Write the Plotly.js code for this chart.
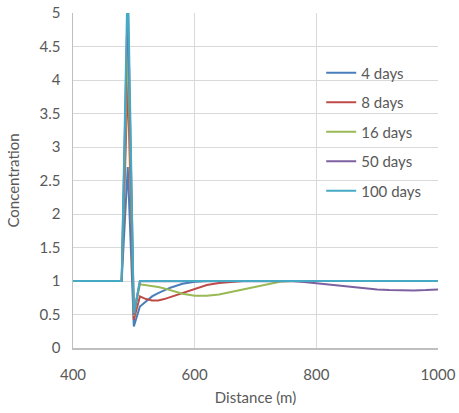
<!DOCTYPE html>
<html>
<head>
<meta charset="utf-8">
<script src="https://cdn.plot.ly/plotly-3.0.1.min.js"></script>
<style>html,body{margin:0;padding:0;background:#fff;}#chart{width:459px;height:413px;}</style>
</head>
<body>
<div id="chart"></div>
<script>
var distance = [400,480,490,500,510,520,530,540,550,560,580,600,620,640,660,680,700,720,740,760,780,800,820,840,860,880,900,920,940,960,980,1000];
var days4   = [1,1,2.7,0.32,0.62,0.70,0.77,0.82,0.86,0.90,0.96,0.99,1,1,1,1,1,1,1,1,1,1,1,1,1,1,1,1,1,1,1,1];
var days8   = [1,1,4.0,0.42,0.77,0.73,0.71,0.71,0.73,0.76,0.83,0.89,0.94,0.97,0.99,1,1,1,1,1,1,1,1,1,1,1,1,1,1,1,1,1];
var days16  = [1,1,4.6,0.48,0.95,0.94,0.93,0.91,0.89,0.86,0.81,0.78,0.78,0.80,0.84,0.88,0.92,0.96,0.99,1,1,1,1,1,1,1,1,1,1,1,1,1];
var days50  = [1,1,5.2,0.50,1,1,1,1,1,1,1,1,1,1,1,1,1,1,1,0.995,0.985,0.97,0.95,0.93,0.91,0.89,0.875,0.865,0.86,0.86,0.865,0.875];
var days100 = [1,1,5.6,0.52,1,1,1,1,1,1,1,1,1,1,1,1,1,1,1,1,1,1,1,1,1,1,1,1,1,1,1,1];
var names = ['4 days','8 days','16 days','50 days','100 days'];
var series = [days4, days8, days16, days50, days100];
var colors = ['#4A7EBB','#BE4B48','#98B954','#7D60A0','#46AAC5'];

var traces = series.map(function(s, i){
  return {x: distance, y: s, type: 'scatter', mode: 'lines', name: names[i],
          legendgroup: 'g'+i, line: {color: colors[i], width: 2}};
});

var font = {family: 'Lato, "Open Sans", sans-serif', size: 14, color: '#595959'};
var layout = {
  width: 459, height: 413,
  margin: {l: 73, r: 21, t: 13, b: 65},
  paper_bgcolor: '#fff', plot_bgcolor: '#fff',
  font: font,
  showlegend: true,
  legend: {x: 0.68, y: 0.87, xanchor: 'left', yanchor: 'top', tracegroupgap: 7, itemwidth: 30,
           bgcolor: 'rgba(0,0,0,0)', font: {family: font.family, size: 15, color: '#595959'}},
  xaxis: {range: [400, 1000], tickvals: [400,600,800,1000], showgrid: true, gridcolor: '#d9d9d9', gridwidth: 1,
          zeroline: false, showline: true, linecolor: '#bfbfbf', linewidth: 1.5, ticks: '', ticklen: 0,
          ticklabelstandoff: 12,
          tickfont: {family: font.family, size: 15, color: '#595959'},
          title: {text: 'Distance (m)', font: {family: font.family, size: 15, color: '#595959'}, standoff: 11}},
  yaxis: {range: [0, 5], dtick: 0.5, showgrid: true, gridcolor: '#d9d9d9', gridwidth: 1,
          zeroline: false, showline: true, linecolor: '#bfbfbf', linewidth: 1.5, ticks: '',
          ticklabelstandoff: 8,
          tickfont: {family: font.family, size: 15, color: '#595959'},
          title: {text: 'Concentration', font: {family: font.family, size: 15, color: '#595959'}, standoff: 16}}
};
Plotly.newPlot('chart', traces, layout, {displayModeBar: false, staticPlot: true});
</script>
</body>
</html>
